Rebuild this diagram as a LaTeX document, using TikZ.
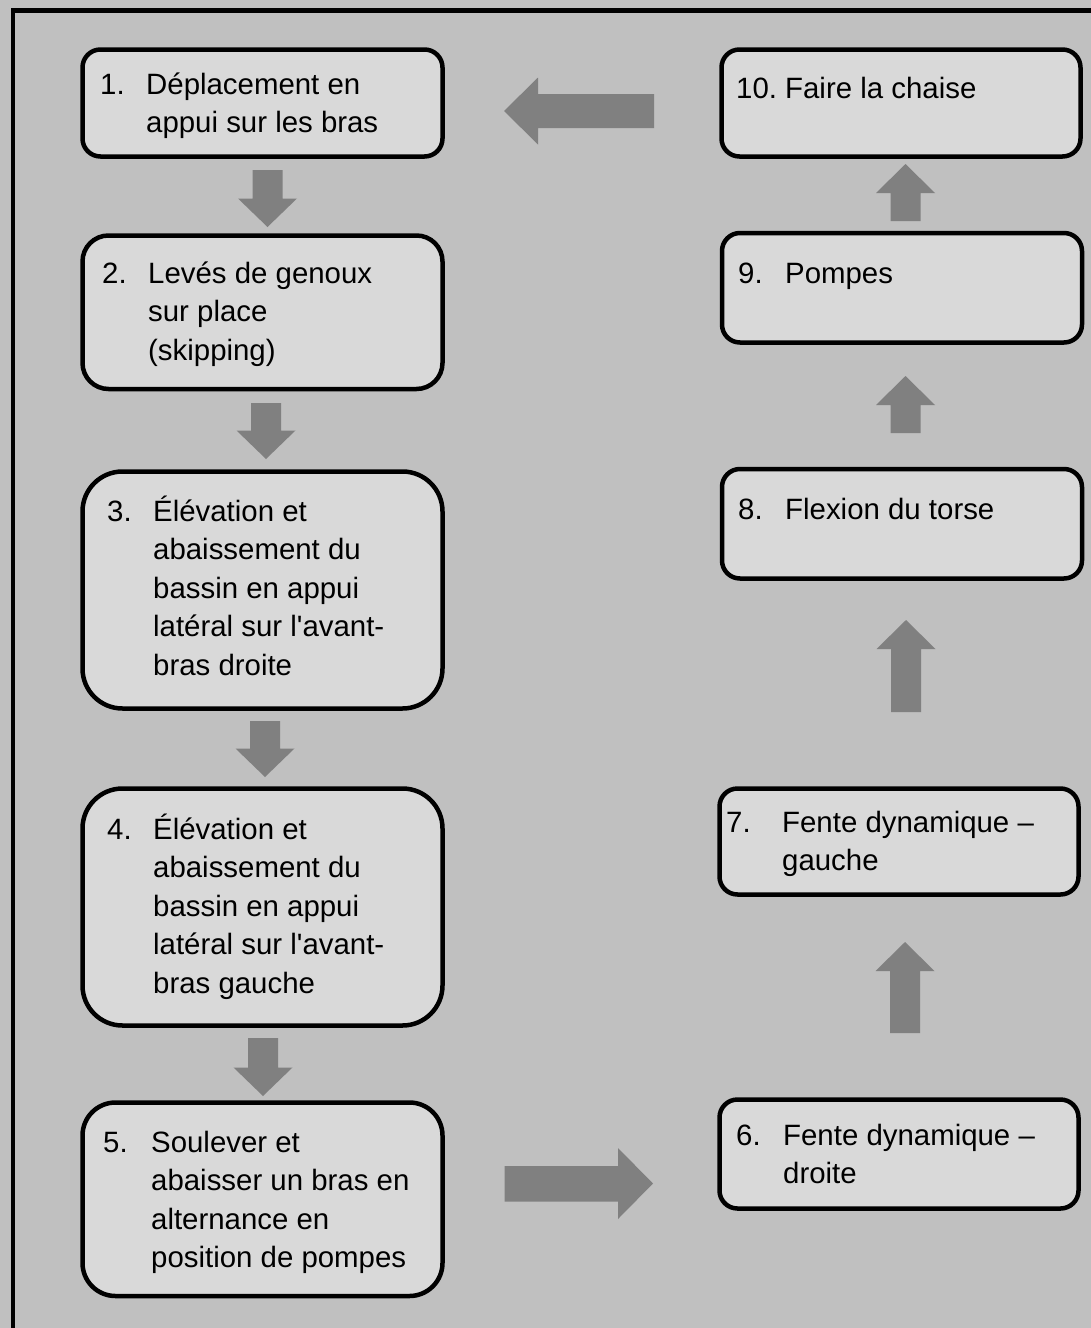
\documentclass[tikz,border=0pt]{standalone}
\usepackage{fontspec}
\setmainfont{Liberation Sans}
\definecolor{bgcol}{HTML}{C0C0C0}
\definecolor{boxfill}{HTML}{D9D9D9}
\definecolor{arrowfill}{HTML}{808080}
\tikzset{
  stepbox/.style={draw=black, line width=4.5pt, fill=boxfill, rectangle, inner sep=0pt},
  boxtext/.style={anchor=base west, inner sep=0pt, font=\fontsize{29.4}{38.5}\selectfont},
  blockarrow/.style={fill=arrowfill},
}
\newcommand\itemtext[3]{\makebox[#1][l]{#2}\parbox[t]{330pt}{#3}}
\newcommand\arrowdown[3]{\fill[blockarrow] ({#1-15},#2) -- ({#1+15},#2) -- ({#1+15},{#3-28.5}) -- ({#1+29.5},{#3-28.5}) -- (#1,#3) -- ({#1-29.5},{#3-28.5}) -- ({#1-15},{#3-28.5}) -- cycle;}
\newcommand\arrowup[3]{\fill[blockarrow] ({#1-15},#2) -- ({#1+15},#2) -- ({#1+15},{#3+29}) -- ({#1+29.5},{#3+29}) -- (#1,#3) -- ({#1-29.5},{#3+29}) -- ({#1-15},{#3+29}) -- cycle;}
\begin{document}
\begin{tikzpicture}[x=1pt,y=-1pt]
\useasboundingbox (0,0) rectangle (1091,1328);
\clip (0,0) rectangle (1091,1328);
\fill[bgcol] (0,0) rectangle (1091,1328);
\draw[line width=4.5pt] (13,10.5) rectangle (1120,1360);

% left column boxes
\node[stepbox, minimum width=360pt, minimum height=107pt, rounded corners=18pt] (b1) at (262.5,103) {};
\node[stepbox, minimum width=360pt, minimum height=153.5pt, rounded corners=26pt] (b2) at (262.5,312.25) {};
\node[stepbox, minimum width=360pt, minimum height=237pt, rounded corners=40pt] (b3) at (262.5,590) {};
\node[stepbox, minimum width=360pt, minimum height=237pt, rounded corners=40pt] (b4) at (262.5,907) {};
\node[stepbox, minimum width=360pt, minimum height=193.5pt, rounded corners=33pt] (b5) at (262.5,1199.25) {};
% right column boxes
\node[stepbox, minimum width=359pt, minimum height=107pt, rounded corners=18pt] (b10) at (901,103) {};
\node[stepbox, minimum width=360pt, minimum height=109.5pt, rounded corners=18pt] (b9) at (902,287.75) {};
\node[stepbox, minimum width=360pt, minimum height=109.5pt, rounded corners=18pt] (b8) at (902,523.75) {};
\node[stepbox, minimum width=359pt, minimum height=106pt, rounded corners=18pt] (b7) at (899,841.5) {};
\node[stepbox, minimum width=359pt, minimum height=109pt, rounded corners=18pt] (b6) at (899,1154) {};

% texts
\node[boxtext] (t1) at (100,94) {\itemtext{46pt}{1.}{Déplacement en\\appui sur les bras}};
\node[boxtext] (t2) at (102,283) {\itemtext{46pt}{2.}{Levés de genoux\\sur place\\(skipping)}};
\node[boxtext] (t3) at (107,521) {\itemtext{46pt}{3.}{Élévation et\\abaissement du\\bassin en appui\\latéral sur l\textquotesingle avant-\\bras droite}};
\node[boxtext] (t4) at (107,839) {\itemtext{46pt}{4.}{Élévation et\\abaissement du\\bassin en appui\\latéral sur l\textquotesingle avant-\\bras gauche}};
\node[boxtext] (t5) at (103,1152) {\itemtext{48pt}{5.}{Soulever et\\abaisser un bras en\\alternance en\\position de pompes}};
\node[boxtext] (t10) at (736,98.5) {\itemtext{49pt}{10.}{Faire la chaise}};
\node[boxtext] (t9) at (738,283.5) {\itemtext{47pt}{9.}{Pompes}};
\node[boxtext] (t8) at (738,519.5) {\itemtext{47pt}{8.}{Flexion du torse}};
\node[boxtext] (t7) at (726,832) {\itemtext{56pt}{7.}{Fente dynamique –\\gauche}};
\node[boxtext] (t6) at (736,1145) {\itemtext{47pt}{6.}{Fente dynamique –\\droite}};

% block arrows, left column (down)
\arrowdown{267.5}{170}{227}
\arrowdown{266}{403}{459}
\arrowdown{265}{721}{777}
\arrowdown{263}{1038}{1096}
% right column (up)
\arrowup{905.5}{221}{164}
\arrowup{905.5}{433}{376}
\arrowup{906}{712}{620}
\arrowup{905}{1033}{942}
% horizontal arrows
\fill[blockarrow] (654,94) -- (654,128) -- (538,128) -- (538,144.5) -- (504,111) -- (538,77.5) -- (538,94) -- cycle;
\fill[blockarrow] (504.5,1166) -- (618,1166) -- (618,1148) -- (653,1183.5) -- (618,1219) -- (618,1201.5) -- (504.5,1201.5) -- cycle;
\end{tikzpicture}
\end{document}
